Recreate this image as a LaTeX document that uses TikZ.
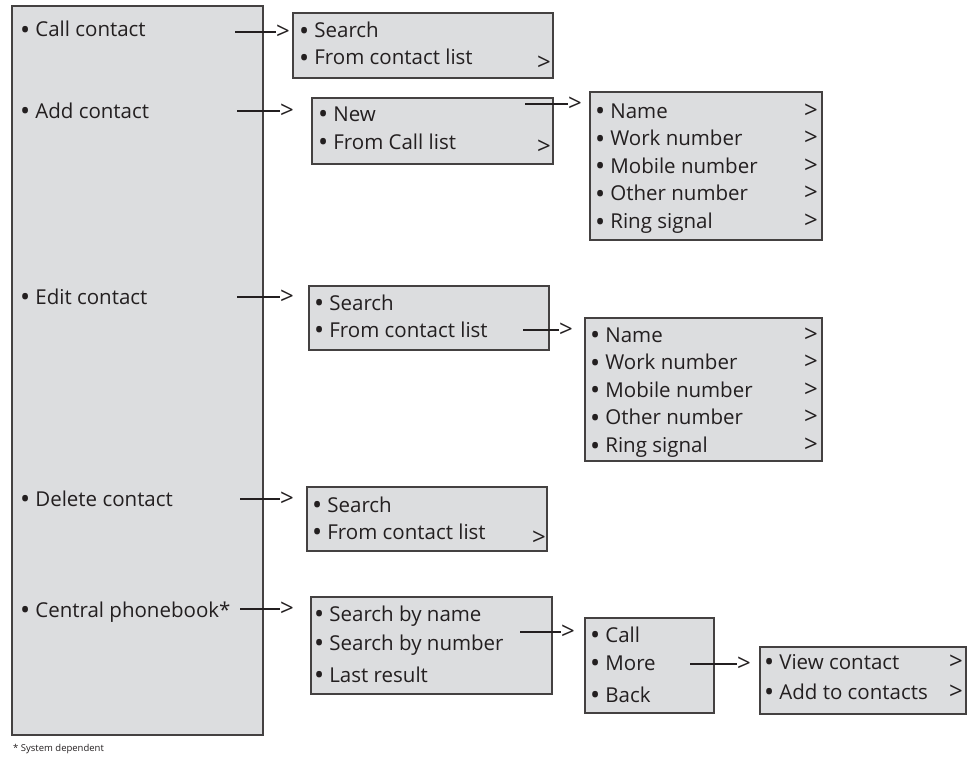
\documentclass[tikz,border=0pt]{standalone}
\usepackage{fontspec}
\setmainfont{Open Sans}
\usetikzlibrary{positioning,calc}
\definecolor{menugray}{RGB}{220,221,223}
\definecolor{ink}{RGB}{35,31,32}
\newcommand\bul{\raisebox{-2.6pt}{\fontsize{27}{27}\selectfont •}\kern 5pt}

\begin{document}
\begin{tikzpicture}[x=1pt,y=-1pt,
  menu/.style={draw=ink!85,fill=menugray,line width=1.1pt},
  item/.style={anchor=base west,inner sep=0pt,text=ink,font=\fontsize{20.5}{24}\selectfont},
  more/.style={anchor=base west,inner sep=0pt,text=ink,font=\fontsize{24}{24}\selectfont},
  chev/.style={anchor=west,inner sep=0pt,text=ink,font=\fontsize{24}{24}\selectfont},
  link/.style={draw=ink,line width=1.1pt}]
\useasboundingbox (0,0) rectangle (969,760);
% menu panels
\draw[menu] (12,6) rectangle (263,735);
\foreach \xa/\ya/\xb/\yb in {293/13/553/78, 312/98/553/164, 590/92/822/240,
  309/286/549/350, 585/318/822/461, 307/487/547/551,
  311/597/552/694, 585/618/714/713, 760/647/966/714}{
  \draw[menu] (\xa,\ya) rectangle (\xb,\yb);
}
% main menu
\node[item] (call) at (20,37) {\bul Call contact};
\node[item] (add) at (20,118) {\bul Add contact};
\node[item] (edit) at (20,304) {\bul Edit contact};
\node[item] (del) at (20,506) {\bul Delete contact};
\node[item] (central) at (20,617) {\bul Central phonebook*};
% sub menus
\foreach \y/\t in {38/Search, 65/From contact list}{\node[item] at (299,\y) {\bul \t};}
\foreach \y/\t in {121/New, 149/From Call list}{\node[item] at (318,\y) {\bul \t};}
\foreach \y/\t in {310/Search, 337/From contact list}{\node[item] at (314,\y) {\bul \t};}
\foreach \y/\t in {512/Search, 539/From contact list}{\node[item] at (312,\y) {\bul \t};}
\foreach \y/\t in {621/Search by name, 650/Search by number, 682/Last result}{\node[item] at (314,\y) {\bul \t};}
\foreach \y/\t in {642/Call, 670/More, 702/Back}{\node[item] at (590,\y) {\bul \t};}
\foreach \y/\t in {669/View contact, 699/Add to contacts}{
  \node[item] at (764,\y) {\bul \t};
  \node[more] at (949,\y) {>};
}
\foreach \x/\ya in {595/118, 590/342}{
  \foreach \t [count=\k from 0] in {Name, Work number, Mobile number, Other number, Ring signal}{
    \node[item] at (\x,\ya+27.6*\k) {\bul \t};
    \node[more] at (804,\ya+27.6*\k) {>};
  }
}
\node[chev] at (537,63) {>};
\node[chev] at (537,147) {>};
\node[chev] at (532,538) {>};
% connectors
\foreach \name/\xa/\xb/\y in {cc/235/276/32, ac/237/280/111, ec/237/280/297, dc/240/280/499,
  cp/240/280/609, nw/525/568/104, fl/523/559/330, sn/520/561/632, mo/690/737/664}{
  \coordinate (\name-from) at (\xa,\y);
  \node[chev] (\name-tip) at (\xb,\y) {>};
  \draw[link] (\name-from) -- (\name-tip.west);
}
\node[anchor=base west,inner sep=0pt,text=ink,font=\fontsize{9.5}{11}\selectfont] (note) at (13,751) {* System dependent};
\end{tikzpicture}
\end{document}
